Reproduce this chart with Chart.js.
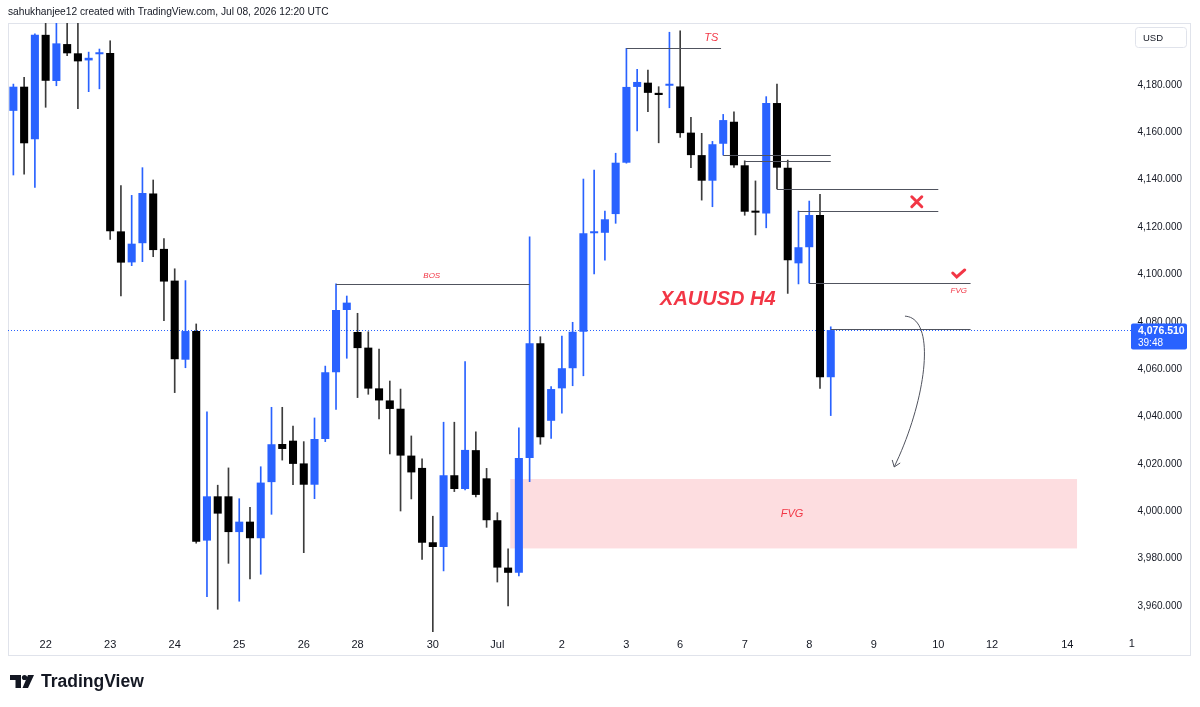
<!DOCTYPE html>
<html>
<head>
<meta charset="utf-8">
<script src="https://cdn.jsdelivr.net/npm/chart.js@4.4.1/dist/chart.umd.min.js"></script>
<style>
html, body { margin: 0; padding: 0; background: #fff; }
#wrap { width: 1200px; height: 707px; position: relative; }
</style>
</head>
<body>
<div id="wrap"><canvas id="xauChart" width="1200" height="707"></canvas></div>
<script>
// XAUUSD H4 candles (index 0 = first bar on the left)
var opens = [4169.1, 4179.3, 4157.1, 4201.2, 4181.7, 4197.3, 4193.4, 4190.4, 4193.0, 4193.5,
  4118.2, 4105.1, 4113.2, 4134.2, 4110.8, 4097.4, 4064.0, 4076.1, 3987.6, 4006.3,
  4006.3, 3991.2, 3995.6, 3988.6, 4012.3, 4028.4, 4029.8, 4020.2, 4011.2, 4030.5,
  4058.7, 4085.0, 4075.7, 4069.1, 4051.9, 4046.8, 4043.3, 4023.5, 4018.3, 3986.9,
  3984.9, 4015.2, 4009.4, 4025.8, 4013.9, 3996.2, 3976.2, 3974.0, 4022.5, 4070.9,
  4038.2, 4051.9, 4060.4, 4075.8, 4117.4, 4117.6, 4125.5, 4147.2, 4179.2, 4181.0,
  4176.7, 4179.7, 4179.4, 4159.9, 4150.4, 4139.6, 4155.2, 4164.5, 4146.1, 4126.8,
  4125.7, 4172.4, 4145.1, 4104.7, 4111.5, 4125.1, 4056.6];
var highs = [4180.4, 4183.3, 4201.6, 4212.0, 4211.0, 4209.0, 4210.0, 4193.9, 4195.2, 4198.7,
  4137.5, 4133.4, 4145.1, 4139.9, 4115.2, 4102.4, 4097.4, 4079.1, 4042.0, 4011.0,
  4018.3, 4005.3, 4001.7, 4018.8, 4043.9, 4043.9, 4036.0, 4029.4, 4039.4, 4061.3,
  4096.0, 4090.9, 4083.6, 4075.8, 4068.5, 4055.0, 4051.6, 4031.8, 4022.1, 3997.9,
  4037.6, 4037.6, 4063.2, 4033.5, 4018.1, 3999.4, 3984.1, 4035.2, 4115.9, 4073.7,
  4052.6, 4074.0, 4079.8, 4140.3, 4144.1, 4126.8, 4151.2, 4195.5, 4186.6, 4186.3,
  4179.3, 4202.3, 4202.9, 4166.4, 4159.6, 4156.2, 4167.6, 4168.7, 4148.0, 4139.5,
  4175.1, 4180.4, 4148.3, 4126.8, 4131.0, 4133.8, 4077.9];
var lows = [4142.0, 4142.4, 4136.8, 4170.6, 4179.7, 4192.4, 4170.0, 4177.2, 4178.4, 4114.8,
  4090.9, 4103.7, 4105.4, 4107.5, 4080.5, 4050.1, 4060.6, 3986.5, 3963.9, 3958.6,
  3978.0, 3962.0, 3971.4, 3973.4, 3998.7, 4021.6, 4011.2, 3982.5, 4005.3, 4029.4,
  4043.0, 4064.6, 4048.0, 4049.4, 4039.0, 4024.2, 4000.1, 4005.2, 3979.7, 3949.1,
  3974.8, 4008.3, 4009.0, 4006.1, 3993.2, 3970.1, 3960.0, 3972.7, 4012.5, 4028.3,
  4030.8, 4041.4, 4053.0, 4057.2, 4100.2, 4106.0, 4121.6, 4147.0, 4160.6, 4168.7,
  4155.6, 4170.4, 4157.9, 4145.1, 4131.4, 4128.6, 4150.4, 4145.2, 4125.0, 4116.7,
  4119.7, 4136.1, 4092.0, 4096.0, 4096.4, 4051.9, 4040.4];
var closes = [4179.3, 4155.4, 4201.2, 4181.8, 4197.6, 4193.4, 4190.0, 4191.5, 4193.5, 4118.2,
  4105.0, 4113.0, 4134.4, 4110.3, 4097.0, 4064.2, 4076.1, 3987.1, 4006.3, 3999.0,
  3991.2, 3995.6, 3988.6, 4012.1, 4028.3, 4026.3, 4020.0, 4011.2, 4030.5, 4058.7,
  4085.0, 4088.1, 4068.9, 4051.8, 4046.8, 4043.2, 4023.5, 4016.4, 3986.7, 3984.9,
  4015.2, 4009.4, 4025.9, 4006.9, 3996.2, 3976.2, 3974.0, 4022.5, 4070.9, 4031.2,
  4051.6, 4060.4, 4075.8, 4117.4, 4118.2, 4123.3, 4147.2, 4179.2, 4181.3, 4176.7,
  4175.8, 4180.5, 4159.7, 4150.4, 4139.6, 4155.0, 4165.2, 4146.1, 4126.5, 4126.1,
  4172.4, 4145.1, 4106.0, 4111.5, 4125.1, 4056.6, 4076.51];

// time axis: bar slot where each day label sits, and its text
var dayTickIndex = [3, 9, 15, 21, 27, 32, 39, 45, 51, 57, 62, 68, 74, 80, 86, 91, 98, 104];
var dayTickText = ['22', '23', '24', '25', '26', '28', '30', 'Jul', '2', '3', '6', '7', '8', '9', '10', '12', '14', '1'];
var priceTicks = [3960, 3980, 4000, 4020, 4040, 4060, 4080, 4100, 4120, 4140, 4160, 4180];
var lastPrice = 4076.51;
var slotCount = 102; // bars + empty future space on the right

// drawings on the chart: [fromBar, toBar, price]
var levelLines = [
  [57, 65.8, 4195.5],
  [30, 48, 4096.0],
  [66, 76, 4150.4],
  [68, 76, 4148.0],
  [71, 86, 4136.1],
  [73, 86, 4126.8],
  [74, 89, 4096.4],
  [76, 89, 4076.8]
];
var fvgZone = [46.2, 98.9, 3984.3, 4013.6];

var UP = '#2962ff', DOWN = '#000000', RED = '#f23645', TEXT = '#131722';

var slots = [];
for (var i = 0; i < slotCount; i++) slots.push(String(i));

function fmtPrice(v) {
  return v.toLocaleString('en-US', { minimumFractionDigits: 3, maximumFractionDigits: 3 });
}

var drawings = {
  id: 'drawings',
  beforeDatasetsDraw: function (chart) {
    var ctx = chart.ctx, xs = chart.scales.x, ys = chart.scales.y, a = chart.chartArea;
    ctx.save();
    // frame
    ctx.strokeStyle = '#e0e3eb';
    ctx.lineWidth = 1;
    ctx.strokeRect(8.5, 23.5, 1182, 632);
    // FVG zone
    var x1 = xs.getPixelForValue(fvgZone[0]), x2 = xs.getPixelForValue(fvgZone[1]);
    var y1 = ys.getPixelForValue(fvgZone[3]), y2 = ys.getPixelForValue(fvgZone[2]);
    ctx.fillStyle = 'rgba(242, 54, 69, 0.17)';
    ctx.fillRect(x1, y1, x2 - x1, y2 - y1);
    // last price dotted line
    var yl = Math.round(ys.getPixelForValue(lastPrice)) + 0.5;
    ctx.strokeStyle = UP;
    ctx.setLineDash([1, 2]);
    ctx.beginPath();
    ctx.moveTo(a.left, yl);
    ctx.lineTo(1131, yl);
    ctx.stroke();
    ctx.restore();
  },
  afterDatasetsDraw: function (chart) {
    var ctx = chart.ctx, xs = chart.scales.x, ys = chart.scales.y;
    function px(b) { return xs.getPixelForValue(b); }
    function py(p) { return ys.getPixelForValue(p); }
    ctx.save();
    ctx.strokeStyle = '#50535e';
    ctx.lineWidth = 1;
    levelLines.forEach(function (l) {
      var y = Math.round(py(l[2])) + 0.5;
      ctx.beginPath();
      ctx.moveTo(px(l[0]), y);
      ctx.lineTo(px(l[1]), y);
      ctx.stroke();
    });
    // curved arrow
    ctx.beginPath();
    ctx.moveTo(px(82.9), py(4082.4));
    ctx.bezierCurveTo(px(85.9), py(4081.6), px(84.9), py(4047.0), px(81.9), py(4018.7));
    ctx.stroke();
    var tx = px(81.9), ty = py(4018.7);
    ctx.beginPath();
    ctx.moveTo(tx - 2, ty - 7);
    ctx.lineTo(tx, ty);
    ctx.lineTo(tx + 6, ty - 4);
    ctx.stroke();

    // red marks
    ctx.strokeStyle = RED;
    ctx.lineWidth = 3;
    ctx.lineCap = 'round';
    var cx = px(84.0), cy = py(4130.7);
    ctx.beginPath();
    ctx.moveTo(cx - 5, cy - 5); ctx.lineTo(cx + 5, cy + 5);
    ctx.moveTo(cx + 5, cy - 5); ctx.lineTo(cx - 5, cy + 5);
    ctx.stroke();
    var kx = px(87.9), ky = py(4100.2);
    ctx.beginPath();
    ctx.moveTo(kx - 6, ky - 1);
    ctx.lineTo(kx - 2, ky + 3);
    ctx.lineTo(kx + 6, ky - 4);
    ctx.stroke();

    // texts
    ctx.fillStyle = RED;
    ctx.textAlign = 'center';
    ctx.textBaseline = 'middle';
    ctx.font = 'italic 11px "Liberation Sans", Arial, sans-serif';
    ctx.fillText('TS', px(64.9), py(4199.8));
    ctx.fillText('FVG', px(72.4), py(3998.8));
    ctx.font = 'italic 8px "Liberation Sans", Arial, sans-serif';
    ctx.fillText('BOS', px(38.9), py(4099.3));
    ctx.fillText('FVG', px(87.9), py(4093.0));
    ctx.font = 'italic bold 20px "Liberation Sans", Arial, sans-serif';
    ctx.fillText('XAUUSD H4', px(65.5), py(4089.6));
    ctx.restore();
  },
  afterDraw: function (chart) {
    var ctx = chart.ctx, xs = chart.scales.x, ys = chart.scales.y;
    ctx.save();
    // header
    ctx.fillStyle = TEXT;
    ctx.textBaseline = 'middle';
    ctx.textAlign = 'left';
    ctx.font = '10.2px "Liberation Sans", Arial, sans-serif';
    ctx.fillText('sahukhanjee12 created with TradingView.com, Jul 08, 2026 12:20 UTC', 8, 12.5);

    // last day label sits under the price scale
    ctx.textAlign = 'center';
    ctx.font = '11px "Liberation Sans", Arial, sans-serif';
    var k = dayTickIndex.length - 1;
    ctx.fillText(dayTickText[k], xs.getPixelForValue(dayTickIndex[k]), 644);

    // USD box
    ctx.strokeStyle = '#e0e3eb';
    ctx.lineWidth = 1;
    ctx.beginPath();
    ctx.roundRect(1135.5, 27.5, 51, 20, 3);
    ctx.stroke();
    ctx.textAlign = 'left';
    ctx.font = '9.5px "Liberation Sans", Arial, sans-serif';
    ctx.fillText('USD', 1143, 38);

    // last price tag
    var yl = ys.getPixelForValue(lastPrice);
    ctx.fillStyle = UP;
    ctx.beginPath();
    ctx.roundRect(1131, yl - 6.5, 56, 26, 2);
    ctx.fill();
    ctx.fillStyle = '#ffffff';
    ctx.font = 'bold 10.5px "Liberation Sans", Arial, sans-serif';
    ctx.fillText(fmtPrice(lastPrice), 1138, yl + 1);
    ctx.font = '10px "Liberation Sans", Arial, sans-serif';
    ctx.fillText('39:48', 1138, yl + 13);

    // TradingView logo
    ctx.fillStyle = '#131722';
    ctx.fillRect(10, 675, 11, 5);
    ctx.fillRect(15.5, 675, 5.5, 13);
    ctx.beginPath();
    ctx.arc(24.5, 677.5, 2.6, 0, Math.PI * 2);
    ctx.fill();
    ctx.beginPath();
    ctx.moveTo(28, 675); ctx.lineTo(34, 675); ctx.lineTo(28, 688); ctx.lineTo(22.5, 688);
    ctx.closePath();
    ctx.fill();
    ctx.font = 'bold 17.5px "Liberation Sans", Arial, sans-serif';
    ctx.fillText('TradingView', 41, 682);
    ctx.restore();
  }
};

new Chart(document.getElementById('xauChart'), {
  type: 'bar',
  data: {
    labels: slots,
    datasets: [
      {
        label: 'body',
        data: opens.map(function (o, i) { return [o, closes[i]]; }),
        backgroundColor: opens.map(function (o, i) { return closes[i] >= o ? UP : DOWN; }),
        grouped: false,
        categoryPercentage: 1,
        barPercentage: 0.75,
        minBarLength: 2,
        order: 0
      },
      {
        label: 'wick',
        data: lows.map(function (l, i) { return [l, highs[i]]; }),
        backgroundColor: opens.map(function (o, i) { return closes[i] >= o ? UP : '#3c3c3c'; }),
        grouped: false,
        barThickness: 1,
        order: 1
      }
    ]
  },
  options: {
    responsive: false,
    animation: false,
    layout: { padding: { left: 8, top: 23, right: 18, bottom: 52 } },
    plugins: { legend: { display: false }, tooltip: { enabled: false } },
    scales: {
      x: {
        type: 'category',
        offset: true,
        grid: { display: false, drawTicks: false },
        border: { display: false },
        ticks: {
          autoSkip: false,
          maxRotation: 0,
          padding: 6,
          color: TEXT,
          font: { family: '"Liberation Sans", Arial, sans-serif', size: 11 },
          callback: function (v, i) {
            var k = dayTickIndex.indexOf(i);
            return k < 0 ? null : dayTickText[k];
          }
        },
        afterFit: function (s) { s.height = 23; }
      },
      y: {
        position: 'right',
        min: 3949.0,
        max: 4206.2,
        grid: { display: false, drawTicks: false },
        border: { display: false },
        afterBuildTicks: function (s) { s.ticks = priceTicks.map(function (v) { return { value: v }; }); },
        ticks: {
          padding: 2,
          crossAlign: 'far',
          color: TEXT,
          font: { family: '"Liberation Sans", Arial, sans-serif', size: 10 },
          callback: function (v) { return fmtPrice(v); }
        },
        afterFit: function (s) { s.width = 77; }
      }
    }
  },
  plugins: [drawings]
});
</script>
</body>
</html>
